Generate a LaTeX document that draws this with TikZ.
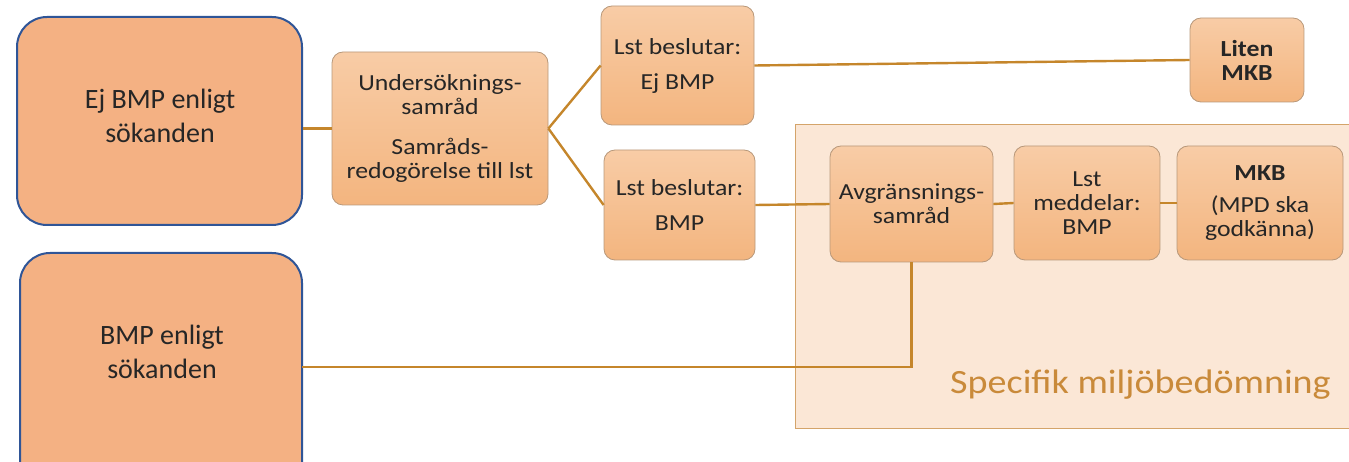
\documentclass[tikz,border=0pt]{standalone}
\usepackage{fontspec}
\setmainfont{Carlito}
\newfontfamily\boxfont[FakeStretch=1.12]{Carlito}
\definecolor{bigfill}{HTML}{F4B183}
\definecolor{bigborder}{HTML}{2F5597}
\definecolor{smtop}{HTML}{F8CCA6}
\definecolor{smbot}{HTML}{F3B57F}
\definecolor{smborder}{HTML}{B8987A}
\definecolor{conn}{HTML}{C5862B}
\definecolor{regionfill}{HTML}{FBE7D6}
\definecolor{regionborder}{HTML}{D4A46A}
\definecolor{regiontext}{HTML}{C98A3A}
\definecolor{txt}{HTML}{262626}
\tikzset{
  bigbox/.style={draw=bigborder, line width=2pt, fill=bigfill, rounded corners=30pt, inner sep=0pt},
  bigtext/.style={inner sep=0pt, align=center, text=txt, font=\fontsize{28}{34}\selectfont},
  smbox/.style={draw=smborder, line width=0.8pt, top color=smtop, bottom color=smbot,
    rounded corners=11pt, inner sep=0pt, align=center, text=txt, font=\boxfont\fontsize{23}{24}\selectfont},
  link/.style={draw=conn, line width=2.4pt},
}
\begin{document}
\begin{tikzpicture}[x=1pt,y=-1pt]
\useasboundingbox (0,0) rectangle (1349,462);
\clip (0,0) rectangle (1349,462);
% region
\node[draw=regionborder, line width=1pt, fill=regionfill, minimum width=580pt, minimum height=304pt, inner sep=0pt, anchor=north west] (region) at (795,124) {};
\node[text=regiontext, font=\boxfont\fontsize{34}{38}\selectfont, anchor=base east, inner sep=0pt] (regionlabel) at (1331,393) {Specifik miljöbedömning};
% big boxes
\node[bigbox, minimum width=285pt, minimum height=208pt] (ej) at (159.5,121) {};
\node[bigtext] (ejtext) at (160,116) {Ej BMP enligt\\sökanden};
\node[bigbox, minimum width=282pt, minimum height=240pt] (bmps) at (161,373) {};
\node[bigtext] (bmpstext) at (162,352) {BMP enligt\\sökanden};
% small boxes
\node[smbox, minimum width=216pt, minimum height=153pt] (und) at (440,128.5) {Undersöknings-\\samråd\\[16pt]Samråds-\\redogörelse till lst};
\node[smbox, minimum width=153pt, minimum height=119pt] (lej) at (677.5,65.5) {Lst beslutar:\\[11pt]Ej BMP};
\node[smbox, minimum width=151pt, minimum height=110pt] (lbmp) at (679.5,205) {Lst beslutar:\\[11pt]BMP};
\node[smbox, minimum width=114pt, minimum height=84pt] (liten) at (1247,60) {\bfseries Liten\\\bfseries MKB};
\node[smbox, minimum width=163pt, minimum height=116pt] (avg) at (911.5,204) {Avgränsnings-\\samråd};
\node[smbox, minimum width=146pt, minimum height=114pt] (lmed) at (1087,203) {Lst\\meddelar:\\BMP};
\node[smbox, minimum width=166pt, minimum height=114pt] (mkb) at (1260,203) {\bfseries MKB\\[8pt](MPD ska\\godkänna)};
% connectors
\coordinate (split) at (und.east);
\draw[link] (und.west -| ej.east) -- (und.west);
\draw[link] (split) -- (lej.west);
\draw[link] (split) -- (lbmp.west);
\draw[link] (lej.east) -- (liten.west);
\draw[link] (lbmp.east) -- (avg.west);
\draw[link] (avg.east) -- (lmed.west);
\draw[link] (lmed.east) -- (mkb.west);
\coordinate (bmpsout) at (302,367);
\draw[link] (bmpsout) -| (avg.south);
\end{tikzpicture}
\end{document}
